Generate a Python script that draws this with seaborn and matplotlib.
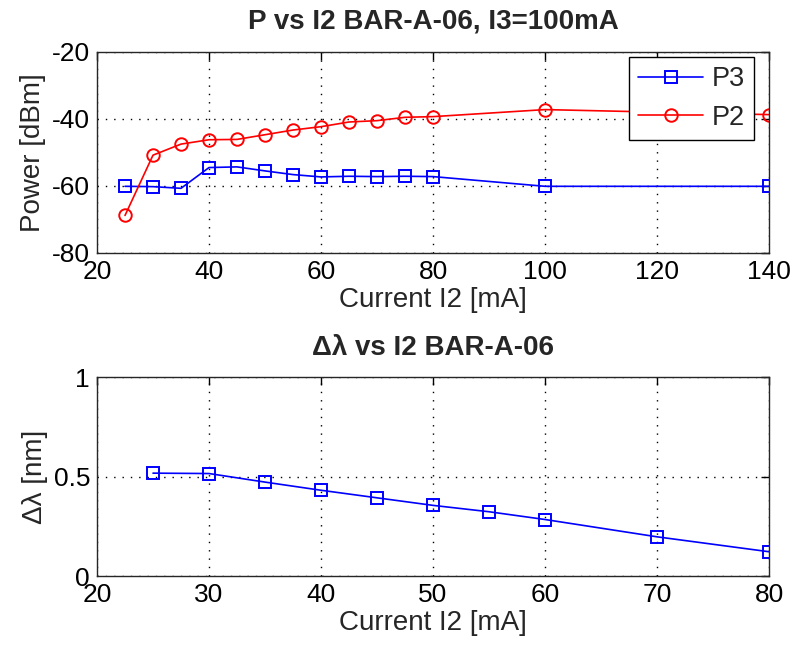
import matplotlib
matplotlib.use("Agg")
import matplotlib.pyplot as plt
import seaborn as sns
import pandas as pd

# Measured power of both sections versus current I2 (I3 fixed at 100 mA)
i2_power = [25, 30, 35, 40, 45, 50, 55, 60, 65, 70, 75, 80, 100, 140]
p3_dbm = [-60.1, -60.2, -60.7, -54.5, -54.3, -55.5, -56.6, -57.3, -57.1, -57.2, -57.1, -57.2, -60.1, -60.1]
p2_dbm = [-68.8, -50.8, -47.5, -46.2, -46.1, -44.7, -43.3, -42.3, -40.9, -40.5, -39.5, -39.3, -37.2, -38.7]

# Wavelength separation versus current I2
i2_dlambda = [25, 30, 35, 40, 45, 50, 55, 60, 70, 80]
dlambda_nm = [0.517, 0.515, 0.472, 0.431, 0.393, 0.355, 0.323, 0.284, 0.197, 0.122]

top_xticks = [20, 40, 60, 80, 100, 120, 140]
top_yticks = [-80, -60, -40, -20]
bot_xticks = [20, 30, 40, 50, 60, 70, 80]
bot_yticks = [0, 0.5, 1]

sns.set_style("white")
plt.rcParams["font.family"] = ["Liberation Sans", "DejaVu Sans"]

fig = plt.figure(figsize=(7.97, 6.53), dpi=100)
ax1 = fig.add_axes([0.1217, 0.6126, 0.8432, 0.3078])
ax2 = fig.add_axes([0.1217, 0.1179, 0.8432, 0.3047])

power_df = pd.DataFrame({"I2": i2_power, "P3": p3_dbm, "P2": p2_dbm})
dl_df = pd.DataFrame({"I2": i2_dlambda, "dl": dlambda_nm})

line_kw = dict(linewidth=1.2, markersize=9, markerfacecolor="none", markeredgewidth=1.4)

sns.lineplot(data=power_df, x="I2", y="P3", ax=ax1, color="#0000ff", marker="s",
             markeredgecolor="#0000ff", label="P3", **line_kw)
sns.lineplot(data=power_df, x="I2", y="P2", ax=ax1, color="#ff0000", marker="o",
             markeredgecolor="#ff0000", label="P2", **line_kw)
sns.lineplot(data=dl_df, x="I2", y="dl", ax=ax2, color="#0000ff", marker="s",
             markeredgecolor="#0000ff", legend=False, **line_kw)

tick_fs = 19
label_fs = 20

for ax, xt, yt in ((ax1, top_xticks, top_yticks), (ax2, bot_xticks, bot_yticks)):
    ax.set_xlim(xt[0], xt[-1])
    ax.set_ylim(yt[0], yt[-1])
    ax.set_xticks(xt)
    ax.set_yticks(yt)
    ax.set_xticklabels([f"{v:g}" for v in xt])
    ax.set_yticklabels([f"{v:g}" for v in yt])
    ax.grid(True, color="black", linestyle=(0, (1, 5)), linewidth=1.0)
    ax.tick_params(direction="in", length=6, width=1, top=True, right=True,
                   labelsize=tick_fs, pad=5, colors="black")
    for s in ax.spines.values():
        s.set_color("#262626")
        s.set_linewidth(1.0)
        s.set_visible(True)
    ax.set_xlabel("Current I2 [mA]", fontsize=label_fs, labelpad=2)

ax1.set_ylabel("Power [dBm]", fontsize=label_fs, labelpad=4)
ax2.set_ylabel("Δλ [nm]", fontsize=label_fs, labelpad=4)

ax1.set_title("P vs I2 BAR-A-06, I3=100mA", fontsize=20, fontweight="bold", pad=17)
ax2.set_title("Δλ vs I2 BAR-A-06", fontsize=20, fontweight="bold", pad=16)

leg = ax1.legend(loc="upper right", bbox_to_anchor=(754 / 797, 1 - 57 / 653),
                 bbox_transform=fig.transFigure, borderaxespad=0,
                 fontsize=19.5, frameon=True, fancybox=False,
                 edgecolor="black", framealpha=1,
                 handlelength=2.4, labelspacing=0.45, borderpad=0.35, handletextpad=0.3)
leg.get_frame().set_linewidth(1.0)

fig.savefig("out.png", dpi=100)
